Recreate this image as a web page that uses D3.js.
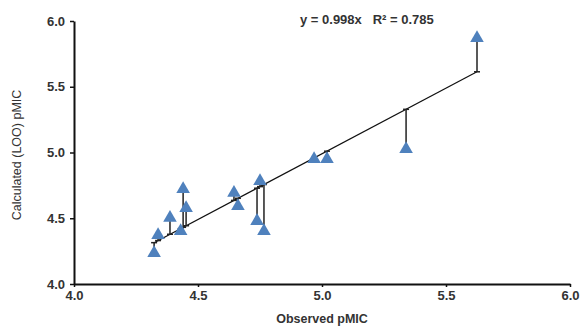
<!DOCTYPE html>
<html>
<head>
<meta charset="utf-8">
<script src="https://cdn.jsdelivr.net/npm/d3@7"></script>
<style>
  body { margin: 0; background: #fff; }
  text { font-family: Arial, "Liberation Sans", sans-serif; fill: #333; }
</style>
</head>
<body>
<script>
const width = 581;
const height = 329;

// observed vs calculated (LOO) pMIC
const observed = [4.323, 4.339, 4.387, 4.44, 4.452, 4.43, 4.645, 4.661, 4.75, 4.738, 4.766, 4.968, 5.02, 5.339, 5.625];
const calculated = [4.243, 4.38, 4.51, 4.73, 4.585, 4.41, 4.70, 4.60, 4.79, 4.487, 4.41, 4.958, 4.958, 5.034, 5.878];
const slope = 0.998;
const r2 = 0.785;
const xTicks = [4.0, 4.5, 5.0, 5.5, 6.0];
const yTicks = [4.0, 4.5, 5.0, 5.5, 6.0];

const points = observed.map((o, i) => ({x: o, y: calculated[i]}));

const svg = d3.select('body').append('svg')
    .attr('width', width)
    .attr('height', height);

const x = d3.scaleLinear().domain([4, 6]).range([74, 570]);
const y = d3.scaleLinear().domain([4, 6]).range([284, 21]);

// axes
const xAxis = svg.append('g')
    .attr('transform', `translate(0,${y(4)})`)
    .call(d3.axisBottom(x).tickValues(xTicks).tickFormat(d3.format('.1f')).tickSizeInner(3).tickSizeOuter(0).tickPadding(4));
const yAxis = svg.append('g')
    .attr('transform', `translate(${x(4)},0)`)
    .call(d3.axisLeft(y).tickValues(yTicks).tickFormat(d3.format('.1f')).tickSizeInner(4).tickSizeOuter(0).tickPadding(5));

[xAxis, yAxis].forEach(function (g) {
    g.select('.domain').attr('stroke', '#111').attr('stroke-width', 2);
    g.selectAll('.tick line').attr('stroke', '#111').attr('stroke-width', 1.5);
    g.selectAll('.tick text')
        .style('font-size', '13px')
        .style('font-weight', 'bold')
        .attr('fill', '#333');
});

// trend line y = 0.998x across data range
const xMin = d3.min(observed), xMax = d3.max(observed);
svg.append('line')
    .attr('x1', x(xMin)).attr('y1', y(slope * xMin))
    .attr('x2', x(xMax)).attr('y2', y(slope * xMax))
    .attr('stroke', '#111')
    .attr('stroke-width', 1.2);

// residual bars from each point to the line, capped at the line
const bars = svg.append('g')
    .attr('stroke', '#222')
    .attr('stroke-width', 1.5);
bars.selectAll('line.bar')
    .data(points)
    .enter().append('line')
    .attr('class', 'bar')
    .attr('x1', d => x(d.x)).attr('x2', d => x(d.x))
    .attr('y1', d => y(d.y)).attr('y2', d => y(slope * d.x));
bars.selectAll('line.cap')
    .data(points)
    .enter().append('line')
    .attr('class', 'cap')
    .attr('x1', d => x(d.x) - 3).attr('x2', d => x(d.x) + 3)
    .attr('y1', d => y(slope * d.x)).attr('y2', d => y(slope * d.x));

// triangle markers
const tri = d3.symbol().type(d3.symbolTriangle).size(80);
svg.append('g')
    .selectAll('path')
    .data(points)
    .enter().append('path')
    .attr('d', tri)
    .attr('transform', d => `translate(${x(d.x)},${y(d.y) + 1})`)
    .attr('fill', '#4F81BD');

// equation label
svg.append('text')
    .attr('x', 300)
    .attr('y', 24)
    .style('font-size', '13px')
    .style('font-weight', 'bold')
    .attr('fill', '#222')
    .attr('xml:space', 'preserve')
    .text(`y = ${slope}x   R² = ${r2}`);

// axis titles
svg.append('text')
    .attr('x', 322)
    .attr('y', 323)
    .attr('text-anchor', 'middle')
    .style('font-size', '12.5px')
    .style('font-weight', 'bold')
    .text('Observed pMIC');

svg.append('text')
    .attr('transform', 'translate(21,155) rotate(-90)')
    .attr('text-anchor', 'middle')
    .style('font-size', '12.5px')
    .text('Calculated (LOO) pMIC');
</script>
</body>
</html>
